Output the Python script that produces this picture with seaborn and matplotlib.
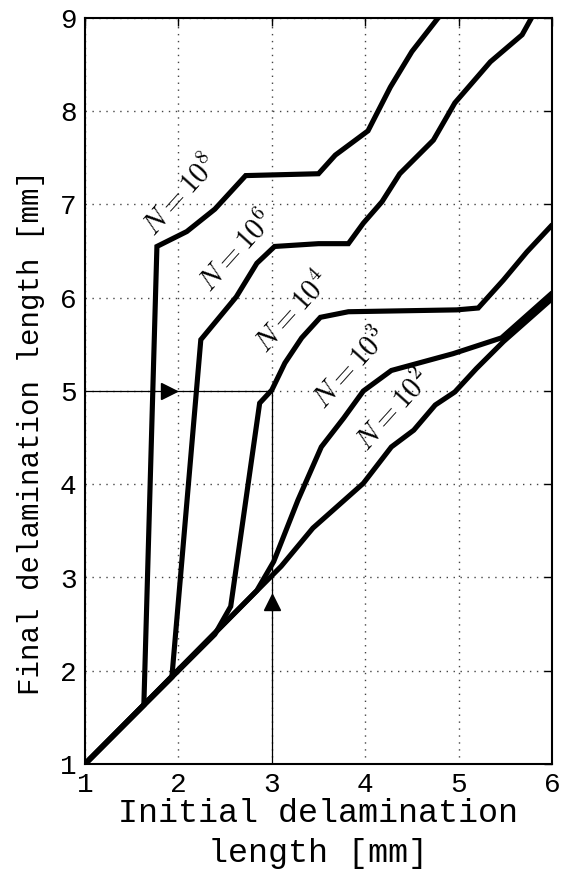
import matplotlib
matplotlib.use("Agg")
import matplotlib.pyplot as plt
import seaborn as sns
import pandas as pd

# ---- data ----
x_n8 = [1, 1.63, 1.77, 2.09, 2.39, 2.72, 3.50, 3.68, 4.03, 4.27, 4.50, 4.78]
y_n8 = [1, 1.63, 6.55, 6.71, 6.95, 7.31, 7.33, 7.53, 7.79, 8.26, 8.64, 9.00]

x_n6 = [1, 1.93, 2.24, 2.62, 2.84, 3.03, 3.50, 3.82, 3.98, 4.18, 4.37, 4.73, 4.96, 5.34, 5.68, 5.78]
y_n6 = [1, 1.93, 5.55, 6.01, 6.37, 6.55, 6.58, 6.58, 6.80, 7.03, 7.33, 7.69, 8.09, 8.53, 8.82, 9.00]

x_n4 = [1, 2.39, 2.56, 2.87, 3.00, 3.14, 3.32, 3.52, 3.82, 4.98, 5.21, 5.48, 5.73, 6.00]
y_n4 = [1, 2.39, 2.69, 4.87, 5.01, 5.30, 5.57, 5.79, 5.85, 5.87, 5.89, 6.19, 6.49, 6.78]

x_n3 = [1, 2.84, 3.02, 3.28, 3.53, 3.77, 3.98, 4.28, 4.94, 5.46, 6.00]
y_n3 = [1, 2.86, 3.17, 3.83, 4.40, 4.71, 5.00, 5.22, 5.40, 5.57, 6.05]

x_n2 = [1, 3.10, 3.44, 3.98, 4.28, 4.52, 4.75, 4.96, 5.19, 5.48, 6.00]
y_n2 = [1, 3.12, 3.53, 4.01, 4.40, 4.58, 4.85, 4.99, 5.24, 5.53, 5.99]

curve_labels = [r"$N{=}10^{8}$", r"$N{=}10^{6}$", r"$N{=}10^{4}$",
                r"$N{=}10^{3}$", r"$N{=}10^{2}$"]
label_x = [2.02, 2.62, 3.22, 3.84, 4.30]
label_y = [7.10, 6.50, 5.85, 5.24, 4.79]

guide_x = [1, 3, 3]
guide_y = [5, 5, 1]
arrow_right = (1.90, 5.0)
arrow_up = (3.0, 2.74)

xticks = [1, 2, 3, 4, 5, 6]
yticks = [1, 2, 3, 4, 5, 6, 7, 8, 9]

# ---- style ----
sns.set_style("white")
plt.rcParams['font.family'] = ['Liberation Mono', 'DejaVu Sans']
plt.rcParams['mathtext.fontset'] = 'cm'

fig = plt.figure(figsize=(5.62, 8.72), dpi=100)
ax = fig.add_axes([85/562, 1 - 764/872, (552-85)/562, (764-18)/872])

curves = [(x_n8, y_n8), (x_n6, y_n6), (x_n4, y_n4), (x_n3, y_n3), (x_n2, y_n2)]
frames = []
for i, (xs, ys) in enumerate(curves):
    frames.append(pd.DataFrame({"x": xs, "y": ys, "curve": curve_labels[i]}))
df = pd.concat(frames, ignore_index=True)

for name in curve_labels:
    sub = df[df["curve"] == name]
    sns.lineplot(data=sub, x="x", y="y", sort=False, estimator=None,
                 color="black", linewidth=3.7, ax=ax, legend=False,
                 solid_joinstyle="miter", solid_capstyle="round")

ax.plot(guide_x, guide_y, color="black", linewidth=0.9, zorder=1)
ax.plot([arrow_right[0]], [arrow_right[1]], marker=">", color="black",
        markersize=11, linestyle="none")
ax.plot([arrow_up[0]], [arrow_up[1]], marker="^", color="black",
        markersize=11, linestyle="none")

for t, lx, ly in zip(curve_labels, label_x, label_y):
    ax.text(lx, ly, t, rotation=48, ha="center", va="center",
            fontsize=21, color="black", rotation_mode="anchor")

ax.set_xlim(1, 6)
ax.set_ylim(1, 9)
ax.set_xticks(xticks)
ax.set_yticks(yticks)
ax.grid(True, linestyle=(0, (1, 4)), color="#444444", linewidth=1.0)
ax.tick_params(direction="in", length=6, width=1, top=True, right=True,
               labelsize=20, pad=6, colors="black")
for s in ax.spines.values():
    s.set_visible(True)
    s.set_color("black")
    s.set_linewidth(1.5)

ax.set_xlabel("Initial delamination\nlength [mm]", fontsize=24,
              linespacing=1.35, labelpad=0, color="black")
ax.set_ylabel("Final delamination length [mm]", fontsize=21, color="black")
ax.yaxis.set_label_coords(-0.085, 0.445)

fig.savefig("out.png", dpi=100)
